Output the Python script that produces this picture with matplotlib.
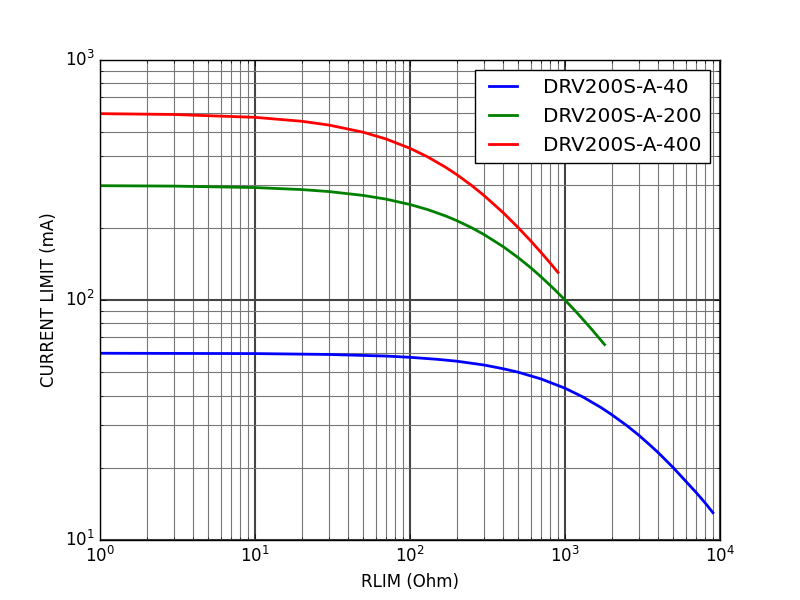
import numpy as np
import matplotlib
matplotlib.use('Agg')
import matplotlib.pyplot as plt

# values (log-log)
r_40 = [1, 3, 10, 30, 70, 100, 150, 200, 300, 400, 500, 700, 1000, 1300,
        1700, 2000, 2500, 3000, 3500, 4000, 5000, 6000, 7000, 8000, 9000]
i_40 = [60.0, 59.9, 59.8, 59.3, 58.4, 57.7, 56.6, 55.6, 53.6, 51.7, 50.0,
        46.9, 42.9, 39.5, 35.7, 33.3, 30.0, 27.3, 25.0, 23.1, 20.0, 17.6,
        15.8, 14.3, 13.0]

r_200 = [1, 3, 10, 20, 30, 50, 70, 100, 130, 170, 200, 250, 300, 400, 500,
         600, 700, 850, 1000, 1200, 1500, 1800]
i_200 = [299.4, 298.2, 294.1, 288.5, 283.0, 272.7, 263.2, 250.0, 238.1,
         223.9, 214.3, 200.0, 187.5, 166.7, 150.0, 136.4, 125.0, 111.1,
         100.0, 88.2, 75.0, 65.2]

r_400 = [1, 3, 10, 20, 30, 50, 70, 100, 130, 170, 200, 250, 300, 400, 500,
         600, 700, 800, 900]
i_400 = [597.6, 592.9, 576.9, 555.6, 535.7, 500.0, 468.8, 428.6, 394.7,
         357.1, 333.3, 300.0, 272.7, 230.8, 200.0, 176.5, 157.9, 142.9, 130.4]

labels = ['DRV200S-A-40', 'DRV200S-A-200', 'DRV200S-A-400']

plt.style.use('classic')
fig = plt.figure(figsize=(8, 6), dpi=100, facecolor='white')
ax = fig.add_subplot(111)
fig.subplots_adjust(left=0.125, right=0.9, top=0.9, bottom=0.1)

ax.loglog(r_40, i_40, color='b', lw=2, label=labels[0])
ax.loglog(r_200, i_200, color='g', lw=2, label=labels[1])
ax.loglog(r_400, i_400, color='r', lw=2, label=labels[2])

ax.set_xlim(1, 1e4)
ax.set_ylim(10, 1000)
ax.grid(True, which='major', color='#444444', linestyle='-', lw=1.5)
ax.grid(True, which='minor', color='#777777', linestyle='-', lw=0.8)
ax.set_axisbelow(True)
ax.set_xlabel('RLIM (Ohm)')
ax.set_ylabel('CURRENT LIMIT (mA)')
leg = ax.legend(loc='upper right', fontsize=14.4, handletextpad=1.0)
leg.get_frame().set_facecolor('white')

fig.savefig('out.png', dpi=100, facecolor='white')
